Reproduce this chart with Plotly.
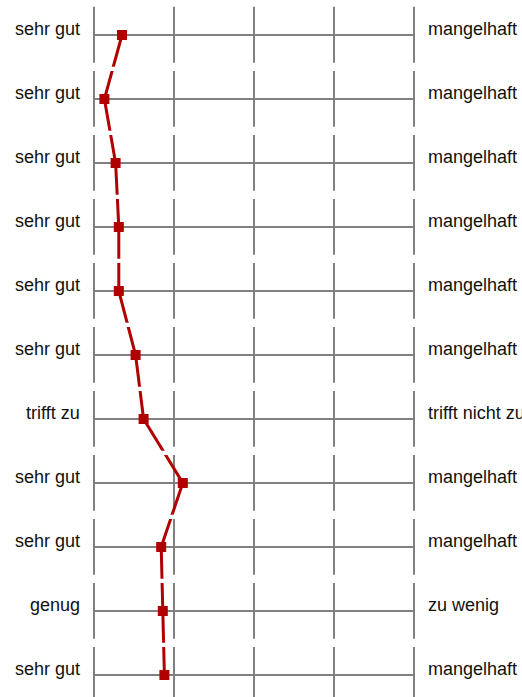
import plotly.graph_objects as go

# ---- data ----
left_labels = ["sehr gut", "sehr gut", "sehr gut", "sehr gut", "sehr gut", "sehr gut",
               "trifft zu", "sehr gut", "sehr gut", "genug", "sehr gut"]
right_labels = ["mangelhaft", "mangelhaft", "mangelhaft", "mangelhaft", "mangelhaft", "mangelhaft",
                "trifft nicht zu", "mangelhaft", "mangelhaft", "zu wenig", "mangelhaft"]
mean_values = [1.35, 1.13, 1.27, 1.31, 1.31, 1.52, 1.62, 2.11, 1.84, 1.86, 1.88]
scale_ticks = [1, 2, 3, 4, 5]

rows = list(range(len(mean_values)))
PX = 64.0  # pixels per row

GRAY = "#808080"
RED = "#b00000"
FONT = "Liberation Sans, Arial, sans-serif"

fig = go.Figure()

fig.add_trace(go.Scatter(
    x=mean_values, y=rows, mode="lines+markers",
    line=dict(color=RED, width=3),
    marker=dict(symbol="square", size=10, color=RED, line=dict(width=0)),
    hoverinfo="skip", showlegend=False,
))

shapes = []
# horizontal row lines
for r in rows:
    shapes.append(dict(type="line", xref="x", yref="y", x0=scale_ticks[0], x1=scale_ticks[-1],
                       y0=r, y1=r, line=dict(color=GRAY, width=2), layer="below"))
# vertical segments per row
for r in rows:
    for t in scale_ticks:
        shapes.append(dict(type="line", xref="x", yref="y", x0=t, x1=t,
                           y0=r - 28.3 / PX, y1=r + 27.7 / PX,
                           line=dict(color=GRAY, width=2), layer="below"))
# white gaps in profile line at row boundaries
for r in rows[:-1]:
    shapes.append(dict(type="rect", xref="paper", yref="y", x0=0, x1=1,
                       y0=r + 0.5 - 0.3 / PX, y1=r + 0.5 + 3.9 / PX,
                       fillcolor="white", line=dict(width=0), layer="above"))

annotations = []
for r in rows:
    annotations.append(dict(x=scale_ticks[0], y=r, xref="x", yref="y", text=left_labels[r],
                            showarrow=False, xanchor="right", yanchor="middle",
                            xshift=-12, yshift=6,
                            font=dict(family=FONT, size=18, color="#111111")))
    annotations.append(dict(x=scale_ticks[-1], y=r, xref="x", yref="y", text=right_labels[r],
                            showarrow=False, xanchor="left", yanchor="middle",
                            xshift=12, yshift=6,
                            font=dict(family=FONT, size=18, color="#111111")))

fig.update_layout(
    width=522, height=697,
    margin=dict(l=90, r=104, t=0, b=0, pad=0),
    paper_bgcolor="white", plot_bgcolor="white",
    xaxis=dict(range=[0.95, 5.05], visible=False, fixedrange=True),
    yaxis=dict(range=[(697 - 35) / PX, -35 / PX], visible=False, fixedrange=True),
    shapes=shapes, annotations=annotations,
    showlegend=False,
)

fig.write_html("out.html", config={"displayModeBar": False},
               post_script="document.body.style.margin='0';")
